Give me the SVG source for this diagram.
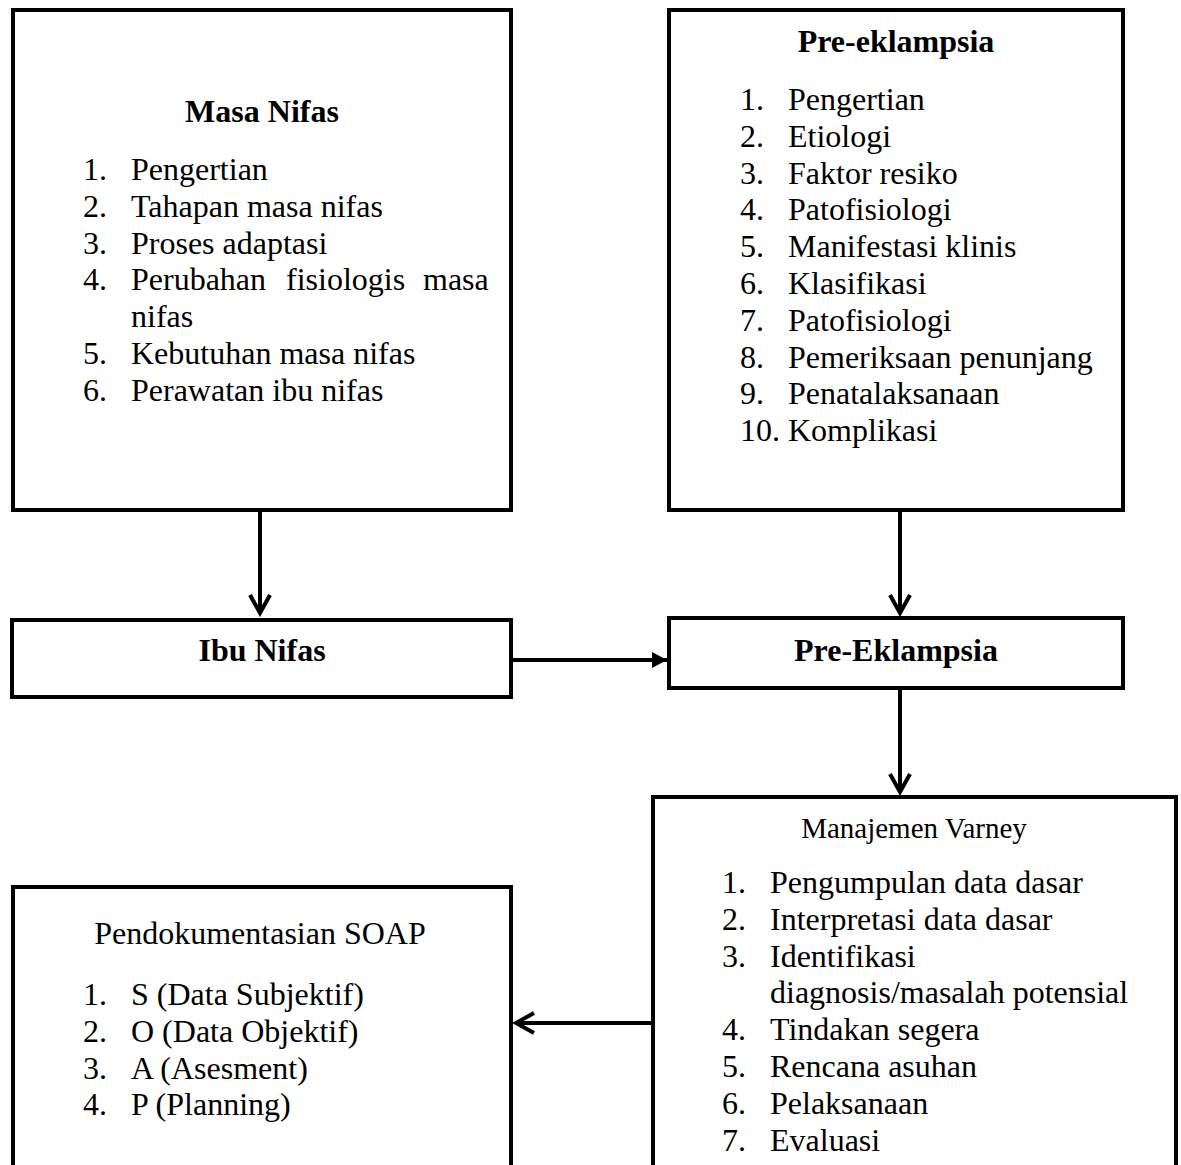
<svg xmlns="http://www.w3.org/2000/svg" width="1181" height="1165" viewBox="0 0 1181 1165">
<style>
.box{fill:#fff;stroke:#000;stroke-width:4}
.t{font-family:"Liberation Serif","Times New Roman",serif;font-size:32px;fill:#000}
.b{font-weight:bold}
.c{text-anchor:middle}
.s29{font-size:29px}
.conn{stroke:#000;stroke-width:4;fill:none}
</style>
<defs>
<marker id="open" markerUnits="userSpaceOnUse" viewBox="-22 -13 26 26" refX="0" refY="0" markerWidth="26" markerHeight="26" orient="auto">
<path d="M-18,-10 L0,0 L-18,10" fill="none" stroke="#000" stroke-width="4"/>
</marker>
<marker id="solid" markerUnits="userSpaceOnUse" viewBox="-16 -10 18 20" refX="0" refY="0" markerWidth="18" markerHeight="20" orient="auto">
<path d="M-15,-8 L0,0 L-15,8 Z" fill="#000"/>
</marker>
</defs>
<rect width="1181" height="1165" fill="#fff"/>

<g id="masa-nifas">
<rect class="box" x="13" y="10" width="498" height="500"/>
<text class="t b c" x="262" y="122">Masa Nifas</text>
<text class="t" x="83" y="180">1.</text><text class="t" x="131" y="180">Pengertian</text>
<text class="t" x="83" y="216.8">2.</text><text class="t" x="131" y="216.8">Tahapan masa nifas</text>
<text class="t" x="83" y="253.6">3.</text><text class="t" x="131" y="253.6">Proses adaptasi</text>
<text class="t" x="83" y="290.4">4.</text><text class="t" y="290.4"><tspan x="131">Perubahan</tspan><tspan x="286">fisiologis</tspan><tspan x="423">masa</tspan></text>
<text class="t" x="131" y="327.2">nifas</text>
<text class="t" x="83" y="364">5.</text><text class="t" x="131" y="364">Kebutuhan masa nifas</text>
<text class="t" x="83" y="400.8">6.</text><text class="t" x="131" y="400.8">Perawatan ibu nifas</text>
</g>

<g id="pre-eklampsia-teori">
<rect class="box" x="669" y="10" width="454" height="500"/>
<text class="t b c" x="896" y="52">Pre-eklampsia</text>
<text class="t" x="740" y="110">1.</text><text class="t" x="788" y="110">Pengertian</text>
<text class="t" x="740" y="146.8">2.</text><text class="t" x="788" y="146.8">Etiologi</text>
<text class="t" x="740" y="183.6">3.</text><text class="t" x="788" y="183.6">Faktor resiko</text>
<text class="t" x="740" y="220.4">4.</text><text class="t" x="788" y="220.4">Patofisiologi</text>
<text class="t" x="740" y="257.2">5.</text><text class="t" x="788" y="257.2">Manifestasi klinis</text>
<text class="t" x="740" y="294">6.</text><text class="t" x="788" y="294">Klasifikasi</text>
<text class="t" x="740" y="330.8">7.</text><text class="t" x="788" y="330.8">Patofisiologi</text>
<text class="t" x="740" y="367.6">8.</text><text class="t" x="788" y="367.6">Pemeriksaan penunjang</text>
<text class="t" x="740" y="404.4">9.</text><text class="t" x="788" y="404.4">Penatalaksanaan</text>
<text class="t" x="740" y="441.2">10.</text><text class="t" x="788" y="441.2">Komplikasi</text>
</g>

<g id="ibu-nifas">
<rect class="box" x="12" y="620" width="499" height="77"/>
<text class="t b c" x="262" y="661">Ibu Nifas</text>
</g>

<g id="pre-eklampsia">
<rect class="box" x="669" y="618" width="454" height="70"/>
<text class="t b c" x="896" y="661">Pre-Eklampsia</text>
</g>

<g id="manajemen-varney">
<rect class="box" x="653" y="797" width="523" height="420"/>
<text class="t s29 c" x="914" y="838">Manajemen Varney</text>
<text class="t" x="722" y="893">1.</text><text class="t" x="770" y="893">Pengumpulan data dasar</text>
<text class="t" x="722" y="929.8">2.</text><text class="t" x="770" y="929.8">Interpretasi data dasar</text>
<text class="t" x="722" y="966.6">3.</text><text class="t" x="770" y="966.6">Identifikasi</text>
<text class="t" x="770" y="1003.4">diagnosis/masalah potensial</text>
<text class="t" x="722" y="1040.2">4.</text><text class="t" x="770" y="1040.2">Tindakan segera</text>
<text class="t" x="722" y="1077">5.</text><text class="t" x="770" y="1077">Rencana asuhan</text>
<text class="t" x="722" y="1113.8">6.</text><text class="t" x="770" y="1113.8">Pelaksanaan</text>
<text class="t" x="722" y="1150.6">7.</text><text class="t" x="770" y="1150.6">Evaluasi</text>
</g>

<g id="soap">
<rect class="box" x="13" y="887" width="498" height="330"/>
<text class="t c" x="260" y="944">Pendokumentasian SOAP</text>
<text class="t" x="83" y="1005">1.</text><text class="t" x="131" y="1005">S (Data Subjektif)</text>
<text class="t" x="83" y="1041.8">2.</text><text class="t" x="131" y="1041.8">O (Data Objektif)</text>
<text class="t" x="83" y="1078.6">3.</text><text class="t" x="131" y="1078.6">A (Asesment)</text>
<text class="t" x="83" y="1115.4">4.</text><text class="t" x="131" y="1115.4">P (Planning)</text>
</g>

<g id="connectors">
<line class="conn" x1="260" y1="512" x2="260" y2="613" marker-end="url(#open)"/>
<line class="conn" x1="900" y1="512" x2="900" y2="613" marker-end="url(#open)"/>
<line class="conn" x1="513" y1="660" x2="667" y2="660" marker-end="url(#solid)"/>
<line class="conn" x1="900" y1="690" x2="900" y2="792" marker-end="url(#open)"/>
<line class="conn" x1="651" y1="1023" x2="516" y2="1023" marker-end="url(#open)"/>
</g>
</svg>
